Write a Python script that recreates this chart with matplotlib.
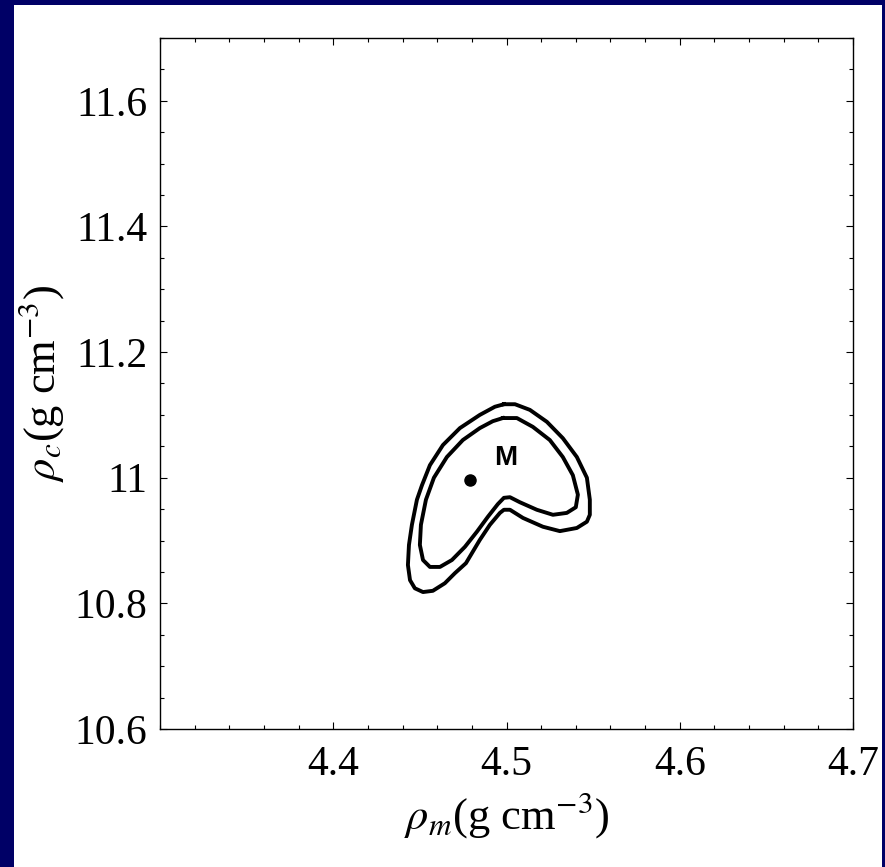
import matplotlib
matplotlib.use('Agg')
import matplotlib.pyplot as plt
from matplotlib.patches import Rectangle
from matplotlib.ticker import FixedLocator, MultipleLocator, FuncFormatter

plt.rcParams['font.family'] = ['Liberation Serif', 'DejaVu Serif']
plt.rcParams['mathtext.fontset'] = 'stix'

# outer confidence contour (rho_m, rho_c)
outer_rm = [4.4985, 4.5049, 4.5135, 4.5233, 4.5325, 4.5406, 4.5464, 4.5481,
            4.5481, 4.5464, 4.5406, 4.5308, 4.5210, 4.5095, 4.5020, 4.4985,
            4.4962, 4.4904, 4.4846, 4.4766, 4.4702, 4.4644, 4.4575, 4.4518,
            4.4471, 4.4443, 4.4431, 4.4437, 4.4454, 4.4483, 4.4512, 4.4558,
            4.4633, 4.4731, 4.4846, 4.4933]
outer_rc = [11.117, 11.117, 11.108, 11.089, 11.063, 11.033, 11.000, 10.965,
            10.941, 10.930, 10.920, 10.915, 10.922, 10.936, 10.949, 10.949,
            10.944, 10.925, 10.901, 10.864, 10.848, 10.832, 10.820, 10.818,
            10.824, 10.837, 10.861, 10.893, 10.925, 10.965, 10.988, 11.020,
            11.052, 11.079, 11.100, 11.113]

# inner confidence contour
inner_rm = [4.4979, 4.5060, 4.5152, 4.5250, 4.5325, 4.5383, 4.5412, 4.5400,
            4.5348, 4.5268, 4.5175, 4.5077, 4.5020, 4.4985, 4.4950, 4.4893,
            4.4829, 4.4760, 4.4685, 4.4616, 4.4558, 4.4518, 4.4500, 4.4506,
            4.4535, 4.4581, 4.4656, 4.4748, 4.4846, 4.4921]
inner_rc = [11.095, 11.095, 11.081, 11.060, 11.033, 11.004, 10.973, 10.953,
            10.944, 10.941, 10.949, 10.961, 10.969, 10.968, 10.958, 10.938,
            10.914, 10.890, 10.869, 10.858, 10.858, 10.869, 10.893, 10.925,
            10.965, 11.000, 11.033, 11.060, 11.079, 11.090]

best_rm = 4.479
best_rc = 10.997
best_name = 'M'

xticks = [4.4, 4.5, 4.6, 4.7]
yticks = [10.6, 10.8, 11.0, 11.2, 11.4, 11.6]

fig = plt.figure(figsize=(8.85, 8.67), dpi=100)
fig.patch.set_facecolor('#000066')
# white page behind the plot
fig.add_artist(Rectangle((14 / 885, 0), 868 / 885, 862 / 867,
                         transform=fig.transFigure, facecolor='white',
                         edgecolor='none', zorder=-5))

ax = fig.add_axes([160 / 885, 138 / 867, 693 / 885, 691 / 867])
ax.set_facecolor('white')

ax.plot(outer_rm + outer_rm[:1], outer_rc + outer_rc[:1], color='black', lw=2.8,
        solid_joinstyle='round')
ax.plot(inner_rm + inner_rm[:1], inner_rc + inner_rc[:1], color='black', lw=2.8,
        solid_joinstyle='round')
ax.plot([best_rm], [best_rc], 'o', color='black', markersize=8)
ax.text(4.4995, 11.031, best_name, fontsize=20, fontweight='bold',
        family='Liberation Sans', ha='center', va='center')

ax.set_xlim(4.3, 4.7)
ax.set_ylim(10.6, 11.7)
ax.xaxis.set_major_locator(FixedLocator(xticks))
ax.xaxis.set_minor_locator(MultipleLocator(0.02))
ax.yaxis.set_major_locator(FixedLocator(yticks))
ax.yaxis.set_minor_locator(MultipleLocator(0.05))
ax.xaxis.set_major_formatter(FuncFormatter(lambda v, p: '%g' % round(v, 2)))
ax.yaxis.set_major_formatter(FuncFormatter(lambda v, p: '%g' % round(v, 2)))

ax.tick_params(which='both', direction='in', top=True, right=True, width=0.8)
ax.tick_params(which='major', length=5, labelsize=30)
ax.tick_params(which='minor', length=3)
ax.tick_params(axis='x', which='major', pad=12)
ax.tick_params(axis='y', which='major', pad=9)
for s in ax.spines.values():
    s.set_linewidth(1.0)

ax.set_xlabel(r'$\rho_m$(g cm$^{-3}$)', fontsize=32, labelpad=4)
ax.set_ylabel(r'$\rho_c$(g cm$^{-3}$)', fontsize=32, labelpad=6)

fig.savefig('out.png', dpi=100, facecolor=fig.get_facecolor())
